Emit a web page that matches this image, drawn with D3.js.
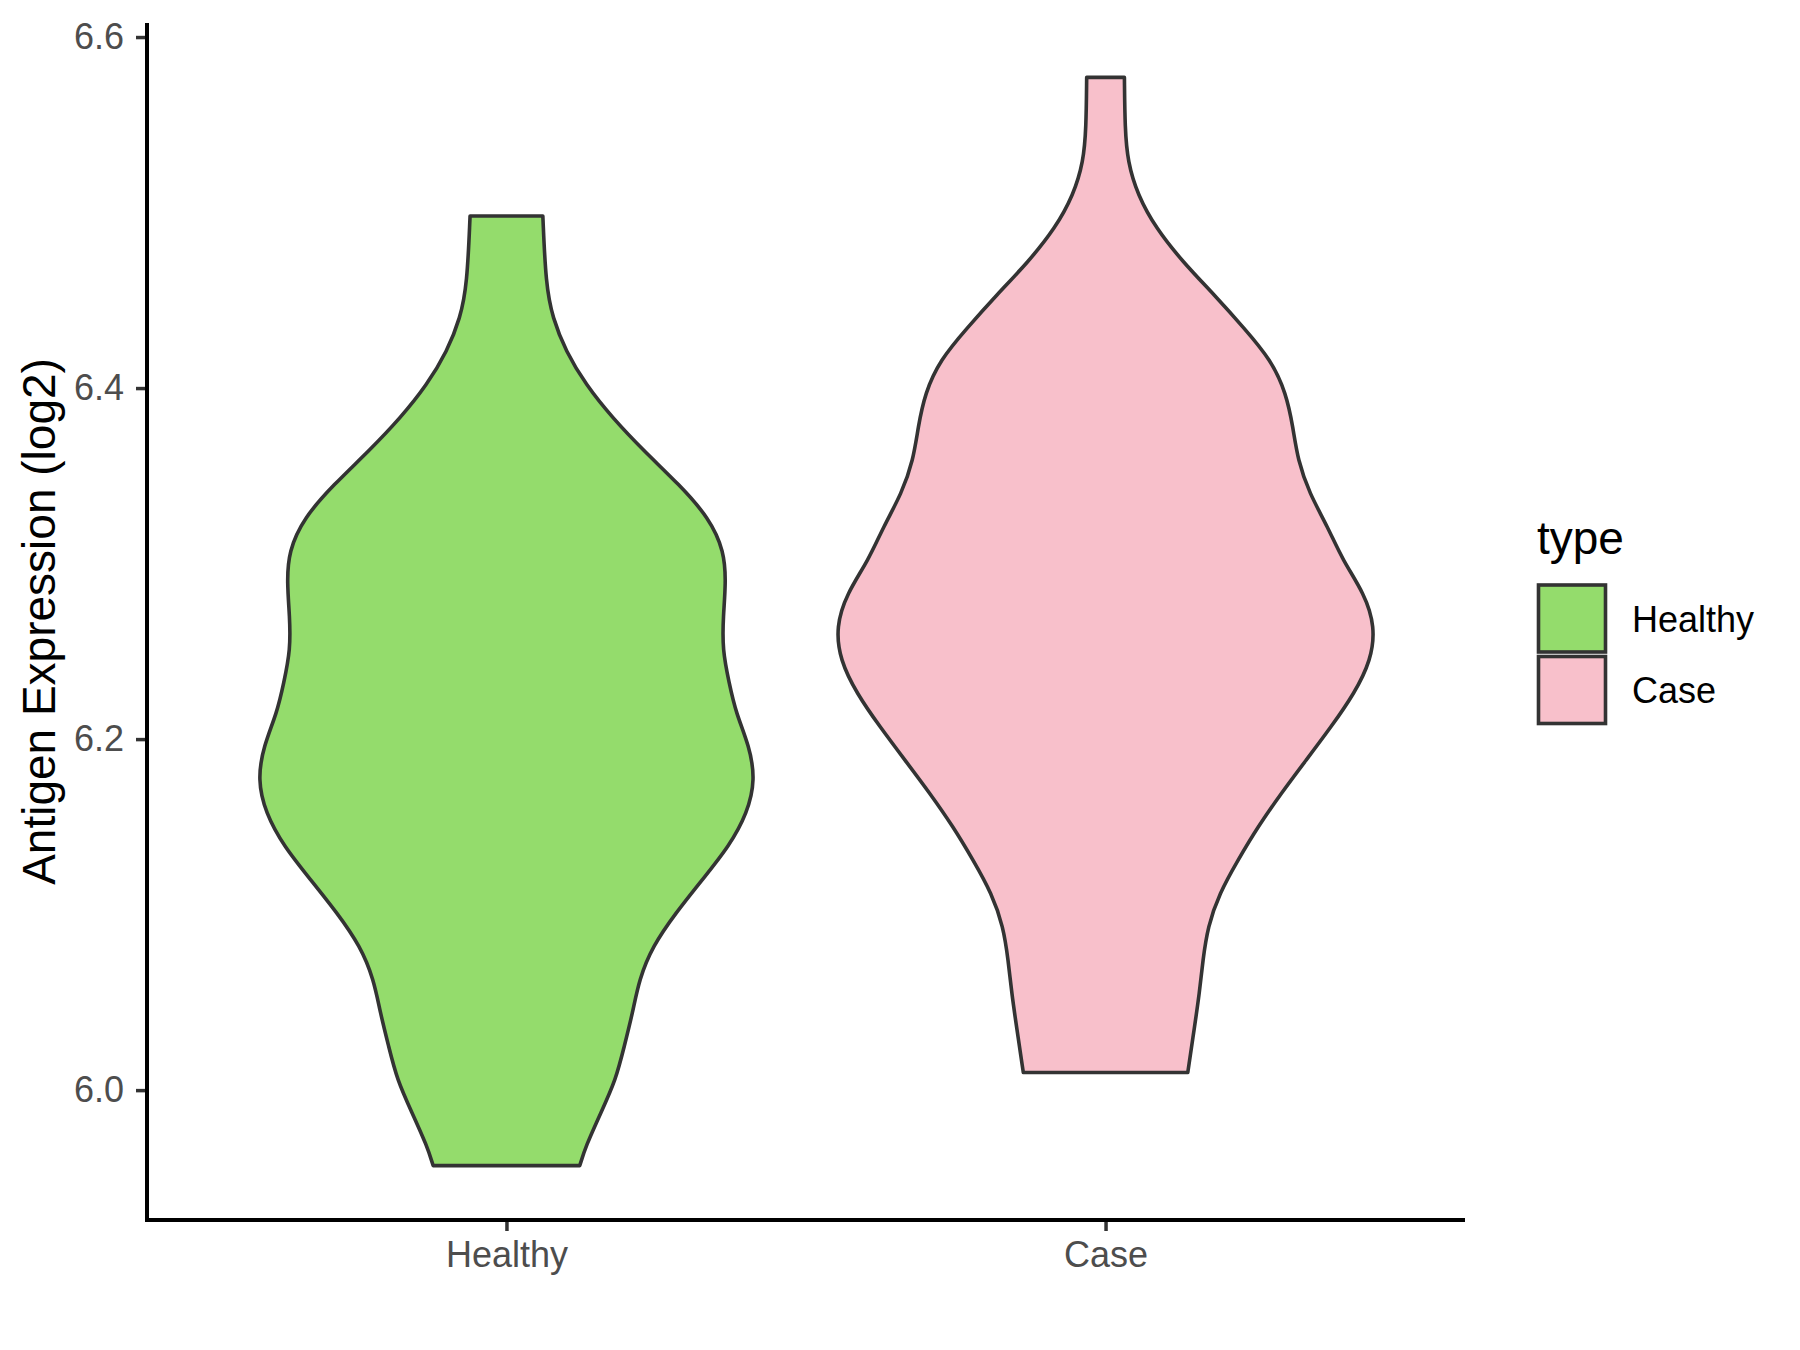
<!DOCTYPE html>
<html>
<head>
<meta charset="utf-8">
<script src="https://cdn.jsdelivr.net/npm/d3@7.9.0/dist/d3.min.js"></script>
<style>
  body { margin: 0; background: #fff; }
  svg { display: block; font-family: "Liberation Sans", Arial, sans-serif; }
</style>
</head>
<body>
<svg width="1800" height="1350"></svg>
<script>
// categories and colours
const categories = ['Healthy', 'Case'];
const fills = ['#94DC6C', '#F8C0CB'];
const yTicks = [6.0, 6.2, 6.4, 6.6];

// violin outlines: expression value and relative width (1 = widest)
const healthyY = [6.498, 6.459, 6.440, 6.421, 6.402, 6.383, 6.364, 6.345, 6.326, 6.307, 6.289, 6.270,
  6.251, 6.232, 6.215, 6.196, 6.177, 6.158, 6.139, 6.120, 6.101, 6.082, 6.063, 6.044, 6.025, 6.006,
  5.987, 5.968, 5.957];
const healthyW = [0.135, 0.146, 0.171, 0.220, 0.294, 0.393, 0.511, 0.641, 0.752, 0.808, 0.814, 0.804,
  0.801, 0.826, 0.851, 0.901, 0.923, 0.894, 0.826, 0.727, 0.628, 0.542, 0.492, 0.468, 0.437, 0.406,
  0.350, 0.294, 0.272];
const caseY = [6.577, 6.548, 6.529, 6.510, 6.491, 6.472, 6.453, 6.434, 6.416, 6.397, 6.378, 6.359,
  6.340, 6.321, 6.302, 6.283, 6.264, 6.245, 6.226, 6.207, 6.188, 6.169, 6.150, 6.131, 6.112, 6.093,
  6.074, 6.055, 6.036, 6.010];
const caseW = [0.070, 0.072, 0.082, 0.119, 0.187, 0.286, 0.404, 0.515, 0.614, 0.670, 0.695, 0.713,
  0.756, 0.824, 0.879, 0.960, 1.000, 0.985, 0.923, 0.837, 0.744, 0.651, 0.565, 0.491, 0.422, 0.379,
  0.361, 0.348, 0.330, 0.305];

const violins = [
  { type: 'Healthy', ys: healthyY, ws: healthyW },
  { type: 'Case', ys: caseY, ws: caseW }
];

const svg = d3.select('svg');
const margin = { left: 147, right: 1465, top: 23, bottom: 1220 };

// y domain: data range with 5% expansion like ggplot
const allY = healthyY.concat(caseY);
const yMin = d3.min(allY), yMax = d3.max(allY);
const pad = (yMax - yMin) * 0.05;
const y = d3.scaleLinear().domain([yMin - pad, yMax + pad]).range([margin.bottom, margin.top]);
const x = d3.scalePoint().domain(categories).range([margin.left, margin.right]).padding(0.6);
const color = d3.scaleOrdinal().domain(categories).range(fills);
const halfMax = x.step() * 0.45;

// violins
violins.forEach((v) => {
  const pts = v.ys.map((d, i) => ({ y: d, w: v.ws[i] }));
  const cx = x(v.type);
  const area = d3.area()
    .y((d) => y(d.y))
    .x0((d) => cx - d.w * halfMax)
    .x1((d) => cx + d.w * halfMax)
    .curve(d3.curveBasis);
  svg.append('path')
    .attr('d', area(pts))
    .attr('fill', color(v.type))
    .attr('stroke', '#333333')
    .attr('stroke-width', 3.6)
    .attr('stroke-linejoin', 'round');
});

// axes
const yAxis = svg.append('g')
  .attr('transform', `translate(${margin.left},0)`)
  .call(d3.axisLeft(y).tickValues(yTicks).tickFormat(d3.format('.1f')).tickSize(11).tickPadding(12));
const xAxis = svg.append('g')
  .attr('transform', `translate(0,${margin.bottom})`)
  .call(d3.axisBottom(x).tickSize(11).tickPadding(10));

[yAxis, xAxis].forEach((g) => {
  g.select('.domain').remove();
  g.selectAll('.tick line').attr('stroke', '#333333').attr('stroke-width', 3.5);
  g.selectAll('.tick text')
    .attr('fill', '#4D4D4D')
    .style('font-size', '36px')
    .style('font-family', '"Liberation Sans", Arial, sans-serif');
});

// axis lines drawn last so they sit on top
svg.append('line')
  .attr('x1', margin.left).attr('x2', margin.left)
  .attr('y1', margin.top).attr('y2', margin.bottom + 2)
  .attr('stroke', '#000').attr('stroke-width', 4);
svg.append('line')
  .attr('x1', margin.left - 2).attr('x2', margin.right)
  .attr('y1', margin.bottom).attr('y2', margin.bottom)
  .attr('stroke', '#000').attr('stroke-width', 4);

// y axis title
svg.append('text')
  .attr('transform', `translate(55,${(margin.top + margin.bottom) / 2}) rotate(-90)`)
  .attr('text-anchor', 'middle')
  .style('font-size', '46px')
  .attr('fill', '#000')
  .text('Antigen Expression (log2)');

// legend
const legend = svg.append('g').attr('transform', 'translate(1537,0)');
legend.append('text')
  .attr('x', 0).attr('y', 554)
  .style('font-size', '46px')
  .attr('fill', '#000')
  .text('type');

categories.forEach((c, i) => {
  const top = 585 + i * 71.5;
  legend.append('rect')
    .attr('x', 1.5).attr('y', top)
    .attr('width', 67).attr('height', 67)
    .attr('fill', color(c))
    .attr('stroke', '#333333')
    .attr('stroke-width', 3.6);
  legend.append('text')
    .attr('x', 95).attr('y', top + 34)
    .attr('dominant-baseline', 'central')
    .style('font-size', '36px')
    .attr('fill', '#000')
    .text(c);
});
</script>
</body>
</html>
